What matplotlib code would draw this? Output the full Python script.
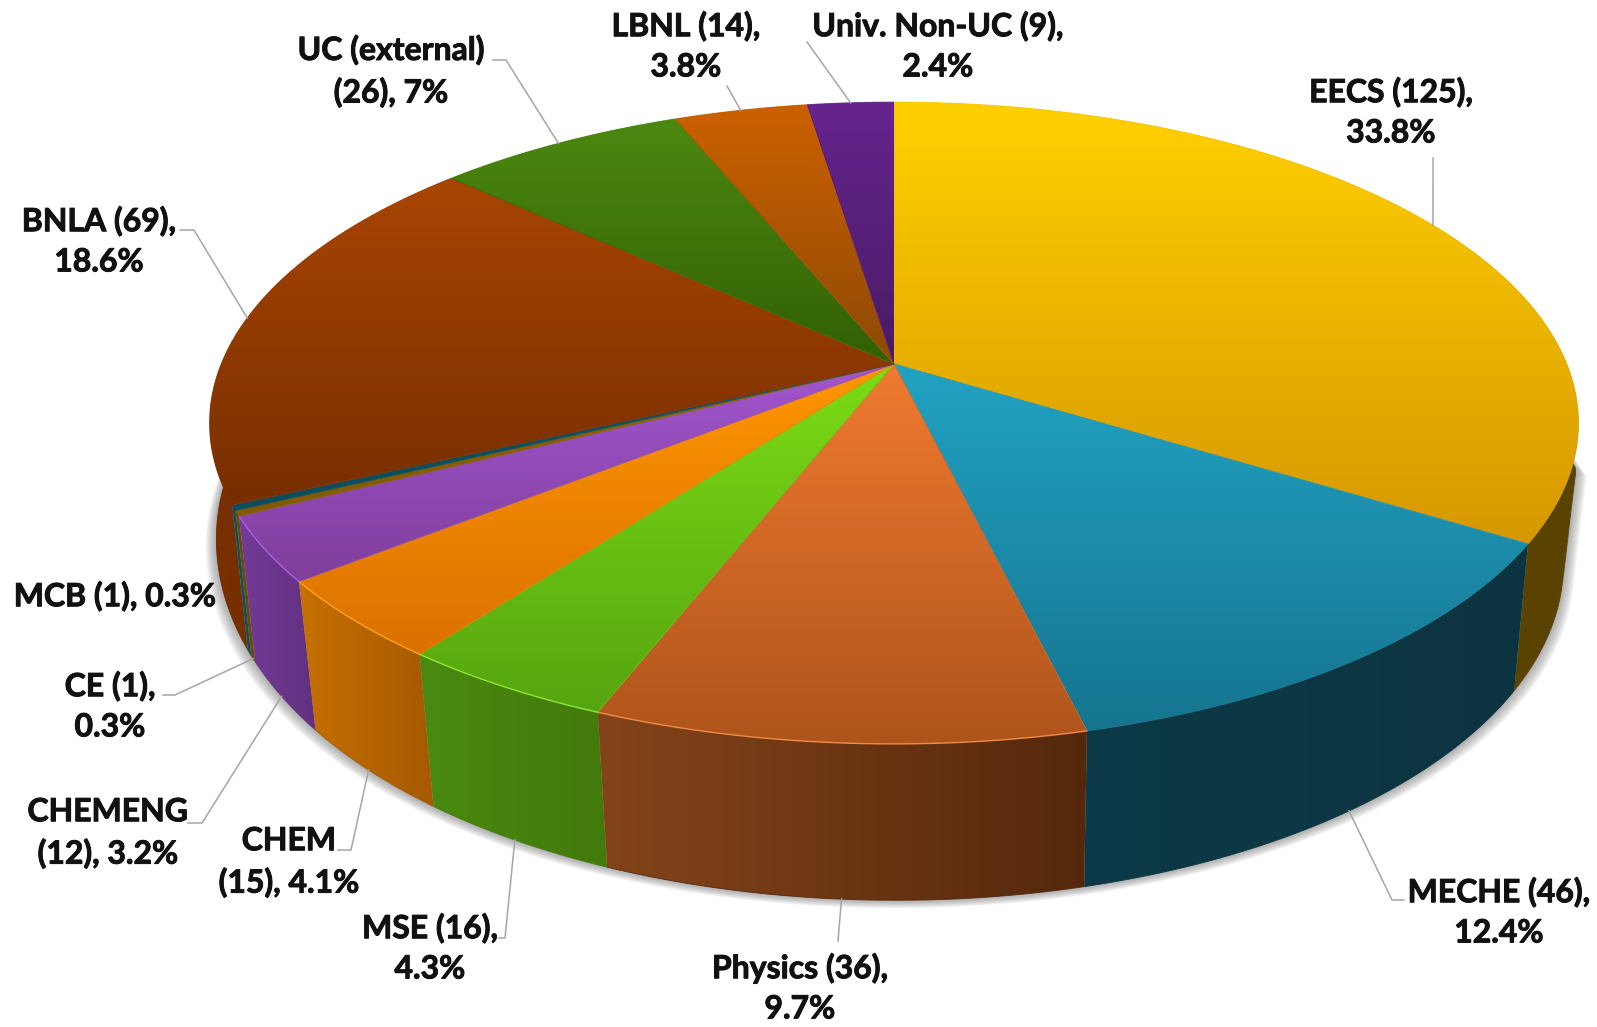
import numpy as np
import matplotlib
matplotlib.use('Agg')
import matplotlib.pyplot as plt
import matplotlib.patheffects as pe
from matplotlib.collections import LineCollection
from matplotlib.colors import to_rgb
from matplotlib.patches import Polygon

#-------------------------------------------------------------------------------
departments = ['EECS', 'MECHE', 'Physics', 'MSE', 'CHEM', 'CHEMENG', 'CE', 'MCB',
               'BNLA', 'UC (external)', 'LBNL', 'Univ. Non-UC']
counts = [125, 46, 36, 16, 15, 12, 1, 1, 69, 26, 14, 9]
labels = ['EECS (125),\n33.8%', 'MECHE (46),\n12.4%', 'Physics (36),\n9.7%',
          'MSE (16),\n4.3%', 'CHEM\n(15), 4.1%', 'CHEMENG\n(12), 3.2%',
          'CE (1),\n0.3%', 'MCB (1), 0.3%', 'BNLA (69),\n18.6%',
          'UC (external)\n(26), 7%', 'LBNL (14),\n3.8%', 'Univ. Non-UC (9),\n2.4%']
#-------------------------------------------------------------------------------
label_pos = [(1391, 112), (1499, 912), (800, 988), (430, 948), (289, 862), (108, 833),
             (110, 706), (115, 596), (99, 241), (391, 71), (686, 46), (938, 46)]
leader_pts = [[(1433, 158)], [(1392, 900), (1404, 900)], [(838, 941)],
              [(505, 938), (499, 938)], [(351, 850), (338, 850)], [(202, 823), (188, 823)],
              [(175, 695), (163, 695)], [], [(194, 230), (180, 230)],
              [(506, 60), (493, 60)], [(727, 86)], [(807, 42)]]
top_hi = ['#FFD000', '#22A2C2', '#F07A30', '#7CDC16', '#FF9500', '#A256CE',
          '#8F6400', '#0F5566', '#A84503', '#4C8810', '#CB6000', '#66258D']
top_lo = ['#D69800', '#157590', '#AE541B', '#56A510', '#DB7200', '#7F3E9C',
          '#825A00', '#0D4C5C', '#782E00', '#326005', '#8E4A05', '#491A66']
side_l = ['#5A4300', '#0D3A48', '#84441A', '#4A8A10', '#C67000', '#733B98',
          '#6B4C00', '#0F5060', '#7A3000', '#326005', '#8E4A05', '#491A66']
side_r = ['#5A4200', '#0C3440', '#55280C', '#427A0B', '#A65900', '#62307F',
          '#6B4C00', '#0F5060', '#6A2900', '#326005', '#8E4A05', '#491A66']
rim_col = [None, None, '#F08A45', '#8CE830', '#FFA020', '#A860D8',
           None, None, None, None, None, None]

cx, cy, a, b, k = 894.0, 364.0, 672.7, 310.0, 0.184
cx2, cy2, a2, b2 = 896.0, 502.0, 656.0, 325.0
#-------------------------------------------------------------------------------
def top_xy(t):
    u, v = np.sin(t), np.cos(t)
    return np.c_[cx + a*u/(1 + k*v), cy - b*v/(1 + k*v)]

def bottom_xy(t):
    u, v = np.sin(t), np.cos(t)
    # the lower outline bulges out at the sides, wider on the left
    reach = np.where(u > 0, 0.25, 0.7)
    bulge = np.minimum(20*np.clip((v + reach)/reach, 0, None)**2, 40)*u
    return np.c_[cx2 + a2*u/(1 + k*v) + bulge, cy2 - b2*v/(1 + k*v)]

def ramp_at(s, c0, c1):
    s = np.clip(s, 0, 1)[:, None]
    return (1 - s)*np.array(to_rgb(c0)) + s*np.array(to_rgb(c1))

def fill_gradient(ax, pts, c0, c1, vertical, zorder):
    patch = Polygon(pts, closed=True, facecolor='none', edgecolor='none',
                    transform=ax.transData, zorder=zorder)
    ax.add_patch(patch)
    ramp = ramp_at(np.linspace(0, 1, 64), c0, c1)
    img = ramp[:, None, :] if vertical else ramp[None, :, :]
    x0, y0 = pts.min(axis=0)
    x1, y1 = pts.max(axis=0)
    im = ax.imshow(img, extent=(x0, x1, y1, y0), aspect='auto', origin='upper',
                   interpolation='bilinear', zorder=zorder)
    im.set_clip_path(patch)

def edge_line(ax, pts, y0, y1, c0, c1, lw, zorder):
    # thin line following the face gradient, softens the clipped edge
    segs = np.stack([pts[:-1], pts[1:]], axis=1)
    s = (segs[:, :, 1].mean(axis=1) - y0)/max(y1 - y0, 1)
    ax.add_collection(LineCollection(segs, colors=ramp_at(s, c0, c1), linewidths=lw,
                                     zorder=zorder))
#-------------------------------------------------------------------------------
plt.rcParams['font.family'] = ['Lato', 'DejaVu Sans']
fig = plt.figure(figsize=(15.97, 10.27), dpi=100)
ax = fig.add_axes([0, 0, 1, 1])
ax.set_axis_off()

edges = 2*np.pi*np.r_[0, np.cumsum(counts)]/np.sum(counts)
mids = (edges[:-1] + edges[1:])/2

# soft shadow under the pie
ring = bottom_xy(np.linspace(0, 2*np.pi, 361))
for s in np.linspace(1, 0, 14):
    shadow = np.c_[cx2 + (ring[:, 0] - cx2)*(1 + 0.016*s), ring[:, 1] + 8*s]
    ax.add_patch(Polygon(shadow, closed=True, facecolor='#707070', edgecolor='none',
                         alpha=0.055, zorder=1))

# side walls, back ones first so the front ones lie over them
order = np.argsort(-np.cos(mids))
for n, i in enumerate(order):
    t = np.linspace(edges[i], edges[i+1], 120)
    wall = np.r_[top_xy(t), bottom_xy(t)[::-1]]
    fill_gradient(ax, wall, side_l[i], side_r[i], False, 2 + 0.01*n)
    low = bottom_xy(t)
    edge_line(ax, low, low[:, 1].min(), low[:, 1].max(), side_r[i], side_r[i], 0.6, 2.5)

# top faces
for i in range(len(counts)):
    t = np.linspace(edges[i], edges[i+1], 160)
    rim = top_xy(t)
    face = np.r_[[[cx, cy]], rim]
    y0, y1 = face[:, 1].min(), face[:, 1].max()
    fill_gradient(ax, face, top_hi[i], top_lo[i], True, 3)
    if rim_col[i]:
        ax.plot(rim[:, 0], rim[:, 1], color=rim_col[i], lw=1.0, zorder=3.2)
    else:
        edge_line(ax, rim, y0, y1, top_hi[i], top_lo[i], 0.7, 3.2)
    edge_line(ax, face[:2], y0, y1, top_hi[i], top_lo[i], 0.5, 3.1)

# leader lines and labels
for i in range(len(counts)):
    if leader_pts[i]:
        t = np.array([mids[i]])
        start = top_xy(t)[0] if np.cos(mids[i]) > 0 else bottom_xy(t)[0]
        path = np.vstack([start, leader_pts[i]])
        ax.plot(path[:, 0], path[:, 1], color='#A6A6A6', lw=1.1, zorder=4)
    ax.text(label_pos[i][0], label_pos[i][1], labels[i], ha='center', va='center',
            fontsize=23, fontweight='bold', color='#111111', linespacing=1.46, zorder=5,
            path_effects=[pe.withStroke(linewidth=0.7, foreground='#111111')])

ax.set_xlim(0, 1597)
ax.set_ylim(1027, 0)
fig.savefig('out.png', dpi=100, facecolor='white')
